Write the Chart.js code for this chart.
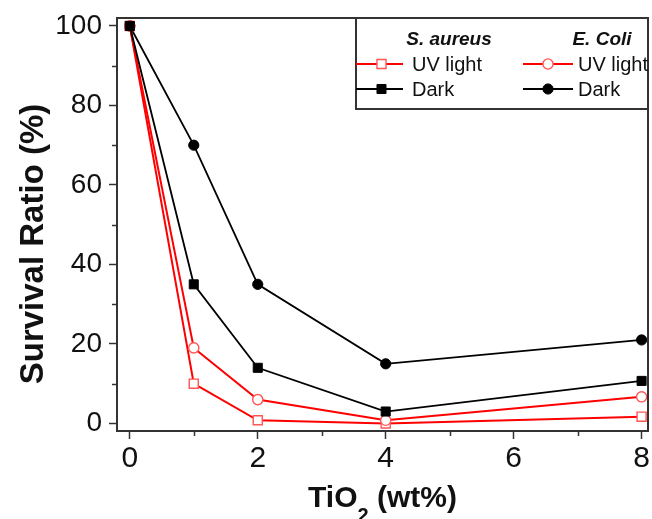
<!DOCTYPE html>
<html>
<head>
<meta charset="utf-8">
<script src="https://cdn.jsdelivr.net/npm/chart.js@4.4.1/dist/chart.umd.min.js"></script>
<style>
  html, body { margin: 0; padding: 0; background: #fff; }
</style>
</head>
<body>
<canvas id="survival" width="652" height="519"></canvas>
<script>
// TiO2 loading (wt%) and survival ratio (%) per strain / condition
const doses = [0, 1, 2, 4, 8];
const aureusUV = [100, 10, 0.8, 0, 1.7];
const aureusDark = [100, 35, 14, 3, 10.7];
const coliUV = [100, 19, 6, 0.8, 6.7];
const coliDark = [100, 70, 35, 15, 21];

const groups = ['S. aureus', 'E. Coli'];
const conditions = ['UV light', 'Dark'];
const yTicks = [0, 20, 40, 60, 80, 100];
const xTicks = [0, 2, 4, 6, 8];

const FONT = '"Liberation Sans", Arial, Helvetica, sans-serif';
const RED = '#ff0000';
const RED_MARK = '#ff5555';
const INK = '#111';
const AXIS = '#333';

function pts(values) {
    return doses.map((d, i) => ({ x: d, y: values[i] }));
}

function series(label, group, values, color, style, open, order) {
    return {
        label: label,
        group: group,
        data: pts(values),
        borderColor: color,
        borderWidth: open ? 2 : 1.8,
        pointStyle: style,
        pointRadius: style === 'rect' ? 6.4 : 5.1,
        pointBorderWidth: open ? 1.4 : 1,
        pointBorderColor: open ? RED_MARK : '#000',
        pointBackgroundColor: open ? '#fff' : '#000',
        tension: 0,
        order: order
    };
}

const datasets = [
    series(conditions[0], groups[0], aureusUV, RED, 'rect', true, 2),
    series(conditions[1], groups[0], aureusDark, '#000', 'rect', false, 0),
    series(conditions[0], groups[1], coliUV, RED, 'circle', true, 1),
    series(conditions[1], groups[1], coliDark, '#000', 'circle', false, 3)
];

// frame around the plot plus the short minor ticks between labelled ones
const framePlugin = {
    id: 'frame',
    afterDraw(chart) {
        const { ctx, chartArea: a, scales } = chart;
        ctx.save();
        ctx.strokeStyle = AXIS;
        ctx.lineWidth = 1.5;
        for (let v = 10; v < 100; v += 20) {
            const y = Math.round(scales.y.getPixelForValue(v)) + 0.5;
            ctx.beginPath();
            ctx.moveTo(a.left - 5, y);
            ctx.lineTo(a.left, y);
            ctx.stroke();
        }
        for (let v = 1; v < 8; v += 2) {
            const x = Math.round(scales.x.getPixelForValue(v)) + 0.5;
            ctx.beginPath();
            ctx.moveTo(x, a.bottom);
            ctx.lineTo(x, a.bottom + 5);
            ctx.stroke();
        }
        ctx.lineWidth = 2;
        ctx.strokeRect(a.left, a.top, a.right - a.left, a.bottom - a.top);
        ctx.restore();
    }
};

// axis titles, x title needs a subscript
const titlePlugin = {
    id: 'axisTitles',
    afterDraw(chart) {
        const { ctx, chartArea: a } = chart;
        ctx.save();
        ctx.fillStyle = INK;
        ctx.textBaseline = 'alphabetic';

        const big = 'bold 30px ' + FONT;
        const sub = 'bold 20px ' + FONT;
        ctx.font = big;
        const w1 = ctx.measureText('TiO').width;
        const w3 = ctx.measureText(' (wt%)').width;
        ctx.font = sub;
        const w2 = ctx.measureText('2').width;
        let x = (a.left + a.right) / 2 - (w1 + w2 + w3) / 2;
        const base = 507;
        ctx.font = big;
        ctx.textAlign = 'left';
        ctx.fillText('TiO', x, base);
        x += w1;
        ctx.font = sub;
        ctx.fillText('2', x, base + 15);
        x += w2;
        ctx.font = big;
        ctx.fillText(' (wt%)', x, base);

        ctx.translate(43, 244);
        ctx.rotate(-Math.PI / 2);
        ctx.font = 'bold 33px ' + FONT;
        ctx.textAlign = 'center';
        ctx.fillText('Survival Ratio (%)', 0, 0);
        ctx.restore();
    }
};

// two-column legend, one column per strain
const legendPlugin = {
    id: 'strainLegend',
    afterDraw(chart) {
        const { ctx, chartArea: a } = chart;
        const l = a.right - 292, t = a.top, r = a.right, b = a.top + 91;
        ctx.save();
        ctx.fillStyle = '#fff';
        ctx.fillRect(l, t, r - l, b - t);
        ctx.strokeStyle = AXIS;
        ctx.lineWidth = 2;
        ctx.strokeRect(l, t, r - l, b - t);

        const cols = [
            { x: l, line: 47, mark: 25.5, text: 56, head: 93 },
            { x: l + 167, line: 50, mark: 25, text: 55, head: 79 }
        ];
        const rows = [t + 46, t + 71];
        ctx.textBaseline = 'middle';
        groups.forEach((g, gi) => {
            const c = cols[gi];
            ctx.fillStyle = INK;
            ctx.font = 'italic bold 19px ' + FONT;
            ctx.textAlign = 'center';
            ctx.fillText(g, c.x + c.head, t + 22);
            chart.data.datasets.forEach(ds => {
                if (ds.group !== g) return;
                const y = rows[conditions.indexOf(ds.label)];
                ctx.strokeStyle = ds.borderColor;
                ctx.lineWidth = ds.borderWidth;
                ctx.beginPath();
                ctx.moveTo(c.x, y);
                ctx.lineTo(c.x + c.line, y);
                ctx.stroke();
                ctx.fillStyle = ds.pointBackgroundColor;
                ctx.strokeStyle = ds.pointBorderColor;
                ctx.lineWidth = ds.pointBorderWidth;
                Chart.helpers.drawPoint(ctx, {
                    pointStyle: ds.pointStyle,
                    radius: ds.pointRadius,
                    rotation: 0,
                    borderWidth: ds.pointBorderWidth
                }, c.x + c.mark, y);
                ctx.fillStyle = INK;
                ctx.font = '20px ' + FONT;
                ctx.textAlign = 'left';
                ctx.fillText(ds.label, c.x + c.text, y + 1);
            });
        });
        ctx.restore();
    }
};

new Chart(document.getElementById('survival'), {
    type: 'line',
    data: { datasets: datasets },
    options: {
        responsive: false,
        animation: false,
        layout: {
            autoPadding: false,
            padding: { top: 18, right: 4, left: 0, bottom: 0 }
        },
        plugins: {
            legend: { display: false },
            tooltip: { enabled: false }
        },
        scales: {
            x: {
                type: 'linear',
                min: -0.2,
                max: 8.1,
                afterFit(s) {
                    s.height = 88;
                    s.paddingLeft = 0;
                    s.paddingRight = 0;
                },
                afterBuildTicks(s) { s.ticks = xTicks.map(v => ({ value: v })); },
                ticks: {
                    color: INK,
                    font: { family: FONT, size: 30 },
                    padding: 2,
                    maxRotation: 0
                },
                grid: {
                    drawOnChartArea: false,
                    tickLength: 8,
                    tickWidth: 1.5,
                    tickColor: AXIS
                },
                border: { display: false }
            },
            y: {
                min: -1.9,
                max: 102,
                afterFit(s) {
                    s.width = 117;
                    s.paddingTop = 0;
                    s.paddingBottom = 0;
                },
                afterBuildTicks(s) { s.ticks = yTicks.map(v => ({ value: v })); },
                ticks: {
                    color: INK,
                    font: { family: FONT, size: 28 },
                    padding: 7
                },
                grid: {
                    drawOnChartArea: false,
                    tickLength: 8,
                    tickWidth: 1.5,
                    tickColor: AXIS
                },
                border: { display: false }
            }
        }
    },
    plugins: [framePlugin, titlePlugin, legendPlugin]
});
</script>
</body>
</html>
